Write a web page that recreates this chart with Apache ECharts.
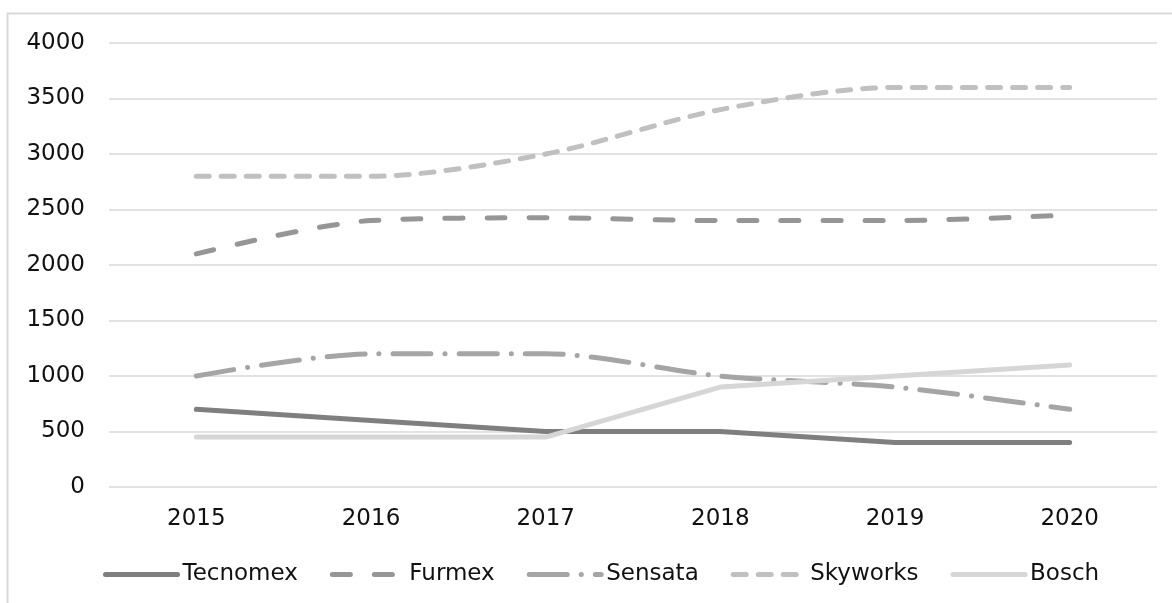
<!DOCTYPE html>
<html>
<head>
<meta charset="utf-8">
<title>Empresas 2015-2020</title>
<script src="https://cdn.jsdelivr.net/npm/echarts@6/dist/echarts.min.js"></script>
<style>
	html, body { margin: 0; padding: 0; background: #fff; }
	#main { width: 1172px; height: 603px; }
</style>
</head>
<body>
<div id="main"></div>
<script>
//datos del gráfico
var years = ['2015', '2016', '2017', '2018', '2019', '2020'];
var tecnomex = [700, 600, 500, 500, 400, 400];
var furmex = [2100, 2400, 2425, 2400, 2400, 2450];
var sensata = [1000, 1200, 1200, 1000, 900, 700];
var skyworks = [2800, 2800, 3000, 3400, 3600, 3600];
var bosch = [450, 450, 450, 900, 1000, 1100];

var fontName = 'DejaVu Sans';

function makeLine(name, data, color, dash, smooth) {
	return {
		name: name,
		type: 'line',
		data: data,
		symbol: 'none',
		smooth: smooth,
		lineStyle: {
			color: color,
			width: 5,
			type: dash,
			cap: 'round',
			join: 'round'
		},
		itemStyle: { color: color }
	};
}

var myChart = echarts.init(document.getElementById('main'));
var option = {
	animation: false,
	backgroundColor: '#fff',
	textStyle: { fontFamily: fontName },
	graphic: [{
		type: 'rect',
		shape: { x: 7.5, y: 13.5, width: 1170, height: 600 },
		style: { fill: 'none', stroke: '#d9d9d9', lineWidth: 2 },
		silent: true
	}],
	grid: {
		left: 109,
		right: 15,
		top: 43,
		bottom: 116
	},
	legend: {
		left: 98,
		top: 558,
		itemWidth: 72,
		itemHeight: 24,
		itemGap: 32,
		itemStyle: { opacity: 0 },
		lineStyle: { width: 5, cap: 'round' },
		textStyle: { fontSize: 23, color: '#111', fontFamily: fontName },
		data: ['Tecnomex', 'Furmex', 'Sensata', 'Skyworks', 'Bosch']
	},
	xAxis: {
		type: 'category',
		data: years,
		boundaryGap: true,
		axisLine: { show: false },
		axisTick: { show: false },
		axisLabel: { fontSize: 23, color: '#111', margin: 21, fontFamily: fontName }
	},
	yAxis: {
		type: 'value',
		min: 0,
		max: 4000,
		interval: 500,
		axisLine: { show: false },
		axisTick: { show: false },
		axisLabel: {
			fontSize: 23,
			color: '#111',
			margin: 24,
			fontFamily: fontName,
			formatter: function(v) { return String(v); }
		},
		splitLine: { lineStyle: { color: '#d9d9d9', width: 1.5 } }
	},
	series: [
		makeLine('Tecnomex', tecnomex, '#7f7f7f', 'solid', false),
		makeLine('Furmex', furmex, '#969696', [18, 24], 0.3),
		makeLine('Sensata', sensata, '#a5a5a5', [38, 14, 0.1, 14], 0.3),
		makeLine('Skyworks', skyworks, '#c0c0c0', [13, 12], 0.3),
		makeLine('Bosch', bosch, '#d6d6d6', 'solid', false)
	]
};
myChart.setOption(option);
window.onresize = myChart.resize;
</script>
</body>
</html>
